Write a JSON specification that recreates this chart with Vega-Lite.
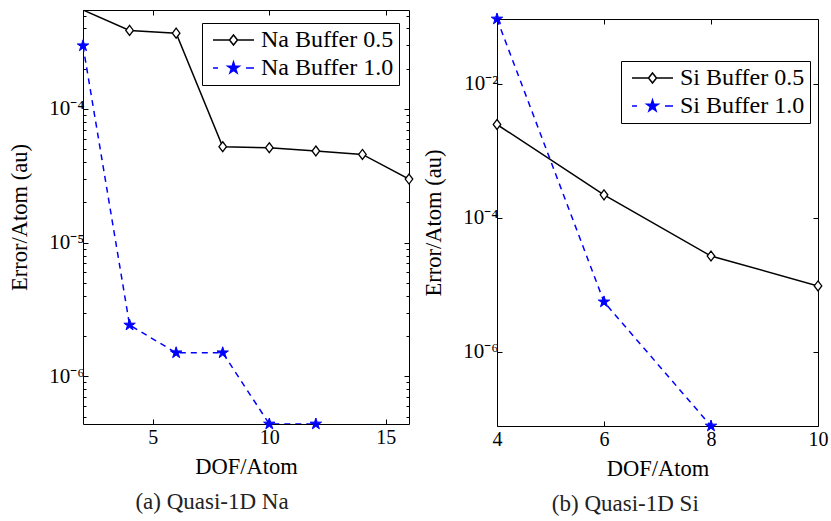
{
  "$schema": "https://vega.github.io/schema/vega-lite/v6.json",
  "background": "white",
  "padding": {"left": 8, "top": 9, "right": 4, "bottom": 2},
  "spacing": 6,
  "resolve": {
    "scale": {"shape": "independent", "fill": "independent", "stroke": "independent"},
    "legend": {"shape": "independent", "fill": "independent", "stroke": "independent"}
  },
  "config": {
    "font": "Liberation Serif",
    "view": {"stroke": null},
    "axis": {"grid": false, "domainColor": "black", "tickColor": "black", "labelColor": "black", "titleColor": "black", "labelFont": "Liberation Serif", "titleFont": "Liberation Serif", "labelFontSize": 20, "titleFontSize": 22.5, "titleFontWeight": "normal", "domainWidth": 1, "tickWidth": 1, "labelFlush": false, "labelOverlap": false},
    "legend": {"labelFont": "Liberation Serif", "labelFontSize": 24, "labelColor": "black", "strokeColor": "black", "fillColor": "white", "padding": 5, "labelOffset": 30, "symbolSize": 400, "symbolStrokeWidth": 1.5, "symbolOpacity": 1, "rowPadding": 4},
    "title": {"font": "Liberation Serif", "fontSize": 23, "fontWeight": "normal", "color": "#222"}
  },
  "hconcat": [
    {
      "width": 326,
      "height": 414,
      "title": {"text": "(a) Quasi-1D Na", "orient": "bottom", "anchor": "middle", "frame": "bounds", "offset": 13},
      "data": {"values": [
        {"dof": 2, "err": 5.5e-4, "series": "Na Buffer 0.5"},
        {"dof": 4, "err": 3.87e-4, "series": "Na Buffer 0.5"},
        {"dof": 6, "err": 3.69e-4, "series": "Na Buffer 0.5"},
        {"dof": 8, "err": 5.22e-5, "series": "Na Buffer 0.5"},
        {"dof": 10, "err": 5.13e-5, "series": "Na Buffer 0.5"},
        {"dof": 12, "err": 4.85e-5, "series": "Na Buffer 0.5"},
        {"dof": 14, "err": 4.57e-5, "series": "Na Buffer 0.5"},
        {"dof": 16, "err": 2.99e-5, "series": "Na Buffer 0.5"},
        {"dof": 2, "err": 2.97e-4, "series": "Na Buffer 1.0"},
        {"dof": 4, "err": 2.42e-6, "series": "Na Buffer 1.0"},
        {"dof": 6, "err": 1.5e-6, "series": "Na Buffer 1.0"},
        {"dof": 8, "err": 1.5e-6, "series": "Na Buffer 1.0"},
        {"dof": 10, "err": 4.4e-7, "series": "Na Buffer 1.0"},
        {"dof": 12, "err": 4.4e-7, "series": "Na Buffer 1.0"}
      ]},
      "layer": [
        {
          "transform": [{"filter": "datum.series === 'Na Buffer 0.5'"}],
          "mark": {"type": "line", "clip": true, "strokeWidth": 1.5, "color": "black"},
          "encoding": {
            "x": {"field": "dof", "type": "quantitative", "scale": {"domain": [2, 16], "nice": false, "zero": false},
              "axis": {"orient": "bottom", "values": [5, 10, 15], "title": "DOF/Atom", "titleFontWeight": "normal", "tickSize": -5, "labelPadding": 8, "titlePadding": 8}},
            "y": {"field": "err", "type": "quantitative", "scale": {"type": "log", "domain": [4.4e-7, 5.5e-4], "nice": false},
              "axis": {"orient": "left", "values": [1e-6, 1e-5, 1e-4], "tickSize": -5, "labelPadding": 4, "labelFontSize": 21, "title": "Error/Atom (au)", "titleFontWeight": "normal", "titlePadding": 17,
                "labelExpr": "'10⁻' + ['⁰','¹','²','³','⁴','⁵','⁶','⁷','⁸','⁹'][round(-log(datum.value)/LN10)]"}}
          }
        },
        {
          "transform": [{"filter": "datum.series === 'Na Buffer 1.0'"}],
          "mark": {"type": "line", "clip": true, "strokeWidth": 1.5, "color": "blue", "strokeDash": [6, 5]},
          "encoding": {
            "x": {"field": "dof", "type": "quantitative", "scale": {"domain": [2, 16], "nice": false, "zero": false}, "axis": null},
            "y": {"field": "err", "type": "quantitative", "scale": {"type": "log", "domain": [4.4e-7, 5.5e-4], "nice": false}, "axis": null}
          }
        },
        {
          "transform": [{"filter": "datum.series === 'Na Buffer 0.5' && datum.err < 5.4e-4"}],
          "mark": {"type": "point", "filled": false, "fill": "white", "stroke": "black", "strokeWidth": 1.3, "size": 144, "opacity": 1, "shape": "M0,-0.83L0.63,0L0,0.83L-0.63,0Z"},
          "encoding": {
            "x": {"field": "dof", "type": "quantitative", "scale": {"domain": [2, 16], "nice": false, "zero": false},
              "axis": {"orient": "top", "values": [5, 10, 15], "labels": false, "title": null, "tickSize": -5}},
            "y": {"field": "err", "type": "quantitative", "scale": {"type": "log", "domain": [4.4e-7, 5.5e-4], "nice": false},
              "axis": {"orient": "right", "values": [1e-6, 1e-5, 1e-4], "labels": false, "title": null, "tickSize": -5}}
          }
        },
        {
          "transform": [{"filter": "datum.series === 'Na Buffer 1.0'"}],
          "mark": {"type": "point", "filled": true, "fill": "blue", "stroke": "blue", "strokeWidth": 1, "size": 144, "opacity": 1, "shape": "M0,-1L0.2245,-0.309L0.951,-0.309L0.3633,0.118L0.588,0.809L0,0.382L-0.588,0.809L-0.3633,0.118L-0.951,-0.309L-0.2245,-0.309Z"},
          "encoding": {
            "x": {"field": "dof", "type": "quantitative", "scale": {"domain": [2, 16], "nice": false, "zero": false}, "axis": null},
            "y": {"field": "err", "type": "quantitative", "scale": {"type": "log", "domain": [4.4e-7, 5.5e-4], "nice": false}, "axis": null}
          }
        },
        {
          "transform": [{"filter": "false"}],
          "mark": {"type": "point", "opacity": 0},
          "encoding": {
            "x": {"field": "dof", "type": "quantitative", "scale": {"domain": [2, 16], "nice": false, "zero": false}, "axis": null},
            "y": {"field": "err", "type": "quantitative", "scale": {"type": "log", "domain": [4.4e-7, 5.5e-4], "nice": false},
              "axis": {"orient": "left", "values": [5e-7, 6e-7, 7e-7, 8e-7, 9e-7, 2e-6, 3e-6, 4e-6, 5e-6, 6e-6, 7e-6, 8e-6, 9e-6, 2e-5, 3e-5, 4e-5, 5e-5, 6e-5, 7e-5, 8e-5, 9e-5, 2e-4, 3e-4, 4e-4, 5e-4], "labels": false, "title": null, "domain": false, "tickSize": -3}}
          }
        },
        {
          "transform": [{"filter": "false"}],
          "mark": {"type": "point", "opacity": 0},
          "encoding": {
            "x": {"field": "dof", "type": "quantitative", "scale": {"domain": [2, 16], "nice": false, "zero": false}, "axis": null},
            "y": {"field": "err", "type": "quantitative", "scale": {"type": "log", "domain": [4.4e-7, 5.5e-4], "nice": false},
              "axis": {"orient": "right", "values": [5e-7, 6e-7, 7e-7, 8e-7, 9e-7, 2e-6, 3e-6, 4e-6, 5e-6, 6e-6, 7e-6, 8e-6, 9e-6, 2e-5, 3e-5, 4e-5, 5e-5, 6e-5, 7e-5, 8e-5, 9e-5, 2e-4, 3e-4, 4e-4, 5e-4], "labels": false, "title": null, "domain": false, "tickSize": -3}}
          }
        },
        {
          "transform": [{"filter": "false"}],
          "mark": {"type": "point", "filled": true, "strokeWidth": 1.5},
          "encoding": {
            "x": {"field": "dof", "type": "quantitative", "scale": {"domain": [2, 16], "nice": false, "zero": false}, "axis": null},
            "y": {"field": "err", "type": "quantitative", "scale": {"type": "log", "domain": [4.4e-7, 5.5e-4], "nice": false}, "axis": null},
            "shape": {"field": "series", "type": "nominal", "scale": {"domain": ["Na Buffer 0.5", "Na Buffer 1.0"], "range": ["M-0.6,0L1.05,0M1.85,0L3.5,0M1.45,-0.5L1.85,0L1.45,0.5L1.05,0Z", "M-0.6,0L-0.1,0M2.7,0L3.5,0M1.45,-0.6L1.5847,-0.1854L2.0206,-0.1854L1.668,0.0708L1.8028,0.4854L1.45,0.2292L1.0972,0.4854L1.232,0.0708L0.8794,-0.1854L1.3153,-0.1854Z"]},
              "legend": {"title": null, "orient": "none", "legendX": 119, "legendY": 13}},
            "fill": {"field": "series", "type": "nominal", "scale": {"domain": ["Na Buffer 0.5", "Na Buffer 1.0"], "range": ["white", "blue"]},
              "legend": {"title": null, "orient": "none", "legendX": 119, "legendY": 13}},
            "stroke": {"field": "series", "type": "nominal", "scale": {"domain": ["Na Buffer 0.5", "Na Buffer 1.0"], "range": ["black", "blue"]},
              "legend": {"title": null, "orient": "none", "legendX": 119, "legendY": 13}}
          }
        }
      ],
      "resolve": {"scale": {"x": "independent", "y": "independent"}, "axis": {"x": "independent", "y": "independent"}}
    },
    {
      "spacing": 0,
      "vconcat": [
        {
          "width": 1,
          "height": 1,
          "data": {"values": [{}]},
          "mark": {"type": "rect", "opacity": 0}
        },
        {
          "width": 321,
          "height": 407,
          "title": {"text": "(b) Quasi-1D Si", "orient": "bottom", "anchor": "middle", "frame": "bounds", "offset": 13},
          "data": {"values": [
            {"dof": 4, "err": 2.48e-3, "series": "Si Buffer 0.5"},
            {"dof": 6, "err": 2.21e-4, "series": "Si Buffer 0.5"},
            {"dof": 8, "err": 2.7e-5, "series": "Si Buffer 0.5"},
            {"dof": 10, "err": 9.66e-6, "series": "Si Buffer 0.5"},
            {"dof": 4, "err": 0.093, "series": "Si Buffer 1.0"},
            {"dof": 6, "err": 5.58e-6, "series": "Si Buffer 1.0"},
            {"dof": 8, "err": 7.85e-8, "series": "Si Buffer 1.0"}
          ]},
          "layer": [
            {
              "transform": [{"filter": "datum.series === 'Si Buffer 0.5'"}],
              "mark": {"type": "line", "clip": true, "strokeWidth": 1.5, "color": "black"},
              "encoding": {
                "x": {"field": "dof", "type": "quantitative", "scale": {"domain": [4, 10], "nice": false, "zero": false},
                  "axis": {"orient": "bottom", "values": [4, 6, 8, 10], "title": "DOF/Atom", "titleFontWeight": "normal", "tickSize": -5, "labelPadding": 8, "titlePadding": 8}},
                "y": {"field": "err", "type": "quantitative", "scale": {"type": "log", "domain": [7.85e-8, 0.093], "nice": false},
                  "axis": {"orient": "left", "values": [1e-6, 1e-4, 1e-2], "tickSize": -5, "labelPadding": 4, "labelFontSize": 21, "title": "Error/Atom (au)", "titleFontWeight": "normal", "titlePadding": 17,
                    "labelExpr": "'10⁻' + ['⁰','¹','²','³','⁴','⁵','⁶','⁷','⁸','⁹'][round(-log(datum.value)/LN10)]"}}
              }
            },
            {
              "transform": [{"filter": "datum.series === 'Si Buffer 1.0'"}],
              "mark": {"type": "line", "clip": true, "strokeWidth": 1.5, "color": "blue", "strokeDash": [6, 5]},
              "encoding": {
                "x": {"field": "dof", "type": "quantitative", "scale": {"domain": [4, 10], "nice": false, "zero": false}, "axis": null},
                "y": {"field": "err", "type": "quantitative", "scale": {"type": "log", "domain": [7.85e-8, 0.093], "nice": false}, "axis": null}
              }
            },
            {
              "transform": [{"filter": "datum.series === 'Si Buffer 0.5'"}],
              "mark": {"type": "point", "filled": false, "fill": "white", "stroke": "black", "strokeWidth": 1.3, "size": 144, "opacity": 1, "shape": "M0,-0.83L0.63,0L0,0.83L-0.63,0Z"},
              "encoding": {
                "x": {"field": "dof", "type": "quantitative", "scale": {"domain": [4, 10], "nice": false, "zero": false},
                  "axis": {"orient": "top", "values": [4, 6, 8, 10], "labels": false, "title": null, "tickSize": -5}},
                "y": {"field": "err", "type": "quantitative", "scale": {"type": "log", "domain": [7.85e-8, 0.093], "nice": false},
                  "axis": {"orient": "right", "values": [1e-6, 1e-4, 1e-2], "labels": false, "title": null, "tickSize": -5}}
              }
            },
            {
              "transform": [{"filter": "datum.series === 'Si Buffer 1.0'"}],
              "mark": {"type": "point", "filled": true, "fill": "blue", "stroke": "blue", "strokeWidth": 1, "size": 144, "opacity": 1, "shape": "M0,-1L0.2245,-0.309L0.951,-0.309L0.3633,0.118L0.588,0.809L0,0.382L-0.588,0.809L-0.3633,0.118L-0.951,-0.309L-0.2245,-0.309Z"},
              "encoding": {
                "x": {"field": "dof", "type": "quantitative", "scale": {"domain": [4, 10], "nice": false, "zero": false}, "axis": null},
                "y": {"field": "err", "type": "quantitative", "scale": {"type": "log", "domain": [7.85e-8, 0.093], "nice": false}, "axis": null}
              }
            },
            {
              "transform": [{"filter": "false"}],
              "mark": {"type": "point", "filled": true, "strokeWidth": 1.5},
              "encoding": {
                "x": {"field": "dof", "type": "quantitative", "scale": {"domain": [4, 10], "nice": false, "zero": false}, "axis": null},
                "y": {"field": "err", "type": "quantitative", "scale": {"type": "log", "domain": [7.85e-8, 0.093], "nice": false}, "axis": null},
                "shape": {"field": "series", "type": "nominal", "scale": {"domain": ["Si Buffer 0.5", "Si Buffer 1.0"], "range": ["M-0.6,0L1.05,0M1.85,0L3.5,0M1.45,-0.5L1.85,0L1.45,0.5L1.05,0Z", "M-0.6,0L-0.1,0M2.7,0L3.5,0M1.45,-0.6L1.5847,-0.1854L2.0206,-0.1854L1.668,0.0708L1.8028,0.4854L1.45,0.2292L1.0972,0.4854L1.232,0.0708L0.8794,-0.1854L1.3153,-0.1854Z"]},
                  "legend": {"title": null, "orient": "none", "legendX": 124, "legendY": 51}},
                "fill": {"field": "series", "type": "nominal", "scale": {"domain": ["Si Buffer 0.5", "Si Buffer 1.0"], "range": ["white", "blue"]},
                  "legend": {"title": null, "orient": "none", "legendX": 124, "legendY": 51}},
                "stroke": {"field": "series", "type": "nominal", "scale": {"domain": ["Si Buffer 0.5", "Si Buffer 1.0"], "range": ["black", "blue"]},
                  "legend": {"title": null, "orient": "none", "legendX": 124, "legendY": 51}}
              }
            }
          ],
          "resolve": {"scale": {"x": "independent", "y": "independent"}, "axis": {"x": "independent", "y": "independent"}}
        }
      ]
    }
  ]
}
